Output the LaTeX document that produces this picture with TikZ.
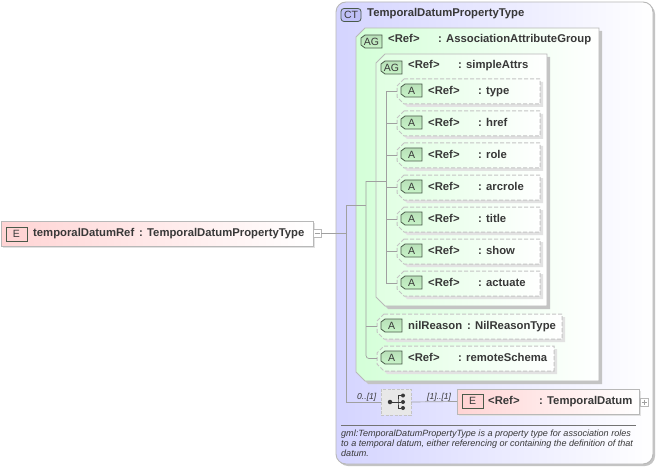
\documentclass[tikz,border=0pt]{standalone}
\usepackage{fontspec}
\setmainfont{Liberation Sans}
\usetikzlibrary{calc}
\definecolor{edge}{HTML}{B8B8B8}
\definecolor{dashedge}{HTML}{C4C4C4}
\definecolor{shadedark}{HTML}{C4C4C4}
\definecolor{shadelight}{HTML}{E2E2E2}
\definecolor{wire}{HTML}{A0A0A0}
\definecolor{ink}{HTML}{383838}
\definecolor{lav}{HTML}{D4D4FF}
\definecolor{mint}{HTML}{D4FFD8}
\definecolor{mintb}{HTML}{E0FFE2}
\definecolor{rose}{HTML}{FFD4D4}
\definecolor{badgetop}{HTML}{B8E0B8}
\definecolor{badgeg}{HTML}{70E878}
\definecolor{badgeb}{HTML}{C8F4C8}
\definecolor{badger}{HTML}{F48C8C}
\definecolor{badgel}{HTML}{C0C0F8}
\definecolor{badgeline}{HTML}{4A5A4A}
\tikzset{
  x=1pt,y=-1pt,
  anchorbox/.style={inner sep=0pt,outer sep=0pt,rectangle},
  lbl/.style={anchor=base west,inner sep=0pt,text=ink,font=\fontsize{11.3}{13}\selectfont\bfseries},
  note/.style={anchor=base west,inner sep=0pt,text=ink,font=\fontsize{9.05}{10}\selectfont\itshape},
  occ/.style={anchor=base west,inner sep=0pt,text=ink,font=\fontsize{8.6}{10}\selectfont\itshape},
  badgetext/.style={inner sep=0pt,text=ink,font=\fontsize{10.5}{12}\selectfont},
  wireline/.style={draw=wire,line width=0.7pt},
  toggle/.style={anchorbox,draw=edge,fill=white,minimum width=8pt,minimum height=8pt,line width=0.8pt},
  dot/.style={circle,fill=ink,inner sep=0pt,minimum size=4pt},
  dashbox/.style={draw=dashedge,dash pattern=on 4pt off 2pt,line width=1pt},
}
\newcommand{\anchorat}[5]{%
  \pgfmathsetmacro{\cxv}{(#2+#4)/2}\pgfmathsetmacro{\cyv}{(#3+#5)/2}%
  \pgfmathsetmacro{\wv}{#4-#2}\pgfmathsetmacro{\hv}{#5-#3}%
  \node[anchorbox,minimum width=\wv pt,minimum height=\hv pt] (#1) at (\cxv,\cyv) {};}
% #1 name, #2..#5 box, #6 left colour, #7 draw options, #8 chamfer, #9 shadow colour
\newcommand{\chambox}[9]{%
  \anchorat{#1}{#2}{#3}{#4}{#5}%
  \fill[#9] ($(#1.north west)+(#8+3,3)$) -- ($(#1.north east)+(3,3)$) -- ($(#1.south east)+(3,3)$) -- ($(#1.south west)+(#8+3,3)$) -- ($(#1.south west)+(3,3-#8)$) -- ($(#1.north west)+(3,3+#8)$) -- cycle;
  \path[left color=#6,right color=white] ($(#1.north west)+(#8,0)$) -- (#1.north east) -- (#1.south east) -- ($(#1.south west)+(#8,0)$) -- ($(#1.south west)+(0,-#8)$) -- ($(#1.north west)+(0,#8)$) -- cycle;
  \draw[#7] ($(#1.north west)+(#8,0)$) -- (#1.north east) -- (#1.south east) -- ($(#1.south west)+(#8,0)$) -- ($(#1.south west)+(0,-#8)$) -- ($(#1.north west)+(0,#8)$) -- cycle;}
\newcommand{\tagbadge}[3]{%
  \pgfmathsetmacro{\xb}{#2+21}\pgfmathsetmacro{\yb}{#3+13}%
  \anchorat{#1}{#2}{#3}{\xb}{\yb}%
  \path[top color=badgetop,middle color=badgeg,bottom color=badgeb] ($(#1.north west)+(4,0)$) -- (#1.north east) -- (#1.south east) -- ($(#1.south west)+(4,0)$) -- ($(#1.south west)+(0,-3)$) -- ($(#1.north west)+(0,3)$) -- cycle;
  \draw[badgeline,line width=0.8pt] ($(#1.north west)+(4,0)$) -- (#1.north east) -- (#1.south east) -- ($(#1.south west)+(4,0)$) -- ($(#1.south west)+(0,-3)$) -- ($(#1.north west)+(0,3)$) -- cycle;}
\begin{document}
\begin{tikzpicture}
\useasboundingbox (0,0) rectangle (656,468);
\fill[white] (0,0) rectangle (656,468);

% complex type box
\fill[shadedark,rounded corners=10pt] (338,4) rectangle (655,466);
\path[rounded corners=10pt,left color=lav,right color=white] (336,2) rectangle (653,464);
\draw[edge,rounded corners=10pt,line width=0.9pt] (336,2) rectangle (653,464);
\node[anchorbox,draw=badgeline,line width=0.8pt,rounded corners=3pt,fill=badgel,minimum width=20pt,minimum height=13pt] (ctbadge) at (351,15) {};
\node[badgetext] (cttext) at (ctbadge.center) {CT};
\node[lbl] (ctname) at (367,17) {TemporalDatumPropertyType};

% attribute groups
\chambox{agouter}{356}{28}{599}{381}{mint}{edge,line width=0.9pt}{9}{shadedark}
\chambox{aginner}{376}{54}{547}{306}{mintb}{edge,line width=0.9pt}{9}{shadedark}

% source element
\fill[shadelight] (3,223) rectangle (315,248);
\anchorat{elem}{1}{221}{313}{246}
\path[left color=rose,right color=white] (elem.north west) rectangle (elem.south east);
\draw[edge,line width=0.9pt] (elem.north west) rectangle (elem.south east);
\anchorat{ebadge}{6}{227}{27}{241}
\path[top color=rose,middle color=badger,bottom color=rose] (ebadge.north west) rectangle (ebadge.south east);
\draw[badgeline,line width=0.8pt] (ebadge.north west) rectangle (ebadge.south east);
\node[badgetext] (etext) at (ebadge.center) {E};
\node[lbl] (ename) at (33,236) {temporalDatumRef};
\node[lbl] (etype) at (139,236) {: TemporalDatumPropertyType};
\node[toggle] (minus) at (317,233.5) {};
\draw[wire,line width=0.8pt] (314.5,233.5) -- (319.5,233.5);

% junctions
\coordinate (j1) at (346,233.5);
\coordinate (j1t) at (346,205);
\coordinate (j1b) at (346,402);
\coordinate (j2) at (366,205);
\coordinate (j2t) at (366,181);
\coordinate (j3) at (386,181);

% attributes in simpleAttrs
\foreach \nm/\yy/\lab in {a/79/type,b/111/href,c/143/role,d/175/arcrole,e/207/title,f/239/show,g/271/actuate}{
  \pgfmathsetmacro{\ybot}{\yy+25}
  \chambox{attr\nm}{397}{\yy}{540}{\ybot}{mintb}{dashbox}{7}{shadelight}
  \pgfmathsetmacro{\yq}{\yy+5}
  \tagbadge{bad\nm}{401}{\yq}
  \node[badgetext] (badt\nm) at (bad\nm.center) {A};
  \pgfmathsetmacro{\yt}{\yy+15.4}
  \node[lbl] (ref\nm) at (428,\yt) {<Ref>};
  \node[lbl] (typ\nm) at (478,\yt) {: \lab};
}
% nilReason and remoteSchema
\chambox{attrn}{377}{314}{562}{339}{mintb}{dashbox}{7}{shadelight}
\tagbadge{badn}{381}{319}
\node[badgetext] (badtn) at (badn.center) {A};
\node[lbl] (refn) at (408,329) {nilReason};
\node[lbl] (typn) at (467,329) {: NilReasonType};
\chambox{attrr}{377}{346}{554}{371}{mintb}{dashbox}{7}{shadelight}
\tagbadge{badr}{381}{351}
\node[badgetext] (badtr) at (badr.center) {A};
\node[lbl] (refr) at (408,361) {<Ref>};
\node[lbl] (typr) at (458,361) {: remoteSchema};

% group badges
\tagbadge{agob}{361}{35}
\node[badgetext] (agot) at (agob.center) {AG};
\node[lbl] (agor) at (388,43) {<Ref>};
\node[lbl] (agoy) at (438,43) {: AssociationAttributeGroup};
\tagbadge{agib}{381}{61}
\node[badgetext] (agit) at (agib.center) {AG};
\node[lbl] (agir) at (408,69) {<Ref>};
\node[lbl] (agiy) at (458,69) {: simpleAttrs};

% connectors
\draw[wireline] (minus.east) -- (j1);
\draw[wireline] (j1t) -- (j1b);
\draw[wireline] (j1t) -- (j2);
\draw[wireline,rounded corners=3pt] (j2t) -- (j2t |- attrr.west) -- (attrr.west);
\draw[wireline] (j2t) -- (j3);
\draw[wireline] (j2t |- attrn.west) -- (attrn.west);
\draw[wireline] (j3 |- attra.west) -- (j3 |- attrg.west);
\foreach \nm in {a,b,c,d,e,f,g}{\draw[wireline] (j3 |- attr\nm.west) -- (attr\nm.west);}

% sequence and target element
\node[anchorbox,fill=black!9,draw=dashedge,dash pattern=on 3pt off 1.5pt,line width=1pt,minimum width=30pt,minimum height=26pt] (seq) at (396,402) {};
\draw[wireline] (j1b) -- (seq.west);
\node[dot,minimum size=4.5pt] (s0) at (390,402) {};
\node[dot] (s1) at (403,395.5) {};
\node[dot] (s2) at (403,402) {};
\node[dot] (s3) at (403,408) {};
\draw[ink,line width=0.8pt] (s0) -- (s2);
\draw[ink,line width=0.8pt] (s1) -| (398,402) |- (s3);

\fill[shadelight] (459,391) rectangle (641,416);
\anchorat{target}{457}{389}{639}{414}
\path[left color=rose,right color=white] (target.north west) rectangle (target.south east);
\draw[edge,line width=0.9pt] (target.north west) rectangle (target.south east);
\draw[wireline] (seq.east) -- (target.west);
\anchorat{tbadge}{462}{394}{483}{408}
\path[top color=rose,middle color=badger,bottom color=rose] (tbadge.north west) rectangle (tbadge.south east);
\draw[badgeline,line width=0.8pt] (tbadge.north west) rectangle (tbadge.south east);
\node[badgetext] (ttext) at (tbadge.center) {E};
\node[lbl] (tref) at (488,404) {<Ref>};
\node[lbl] (ttype) at (539,404) {: TemporalDatum};
\node[toggle] (plus) at (644,402) {};
\draw[wire,line width=0.8pt] (641.5,402) -- (646.5,402) (644,399.5) -- (644,404.5);

\node[occ] (occa) at (357,399) {0..[1]};
\node[occ] (occb) at (427,399) {[1]..[1]};

% documentation
\coordinate (rulel) at (341,425);
\coordinate (ruler) at (636,425);
\draw[black!55,line width=0.6pt] (rulel) -- (ruler);
\node[note] (n1) at (341,436) {gml:TemporalDatumPropertyType is a property type for association roles};
\node[note] (n2) at (341,446) {to a temporal datum, either referencing or containing the definition of that};
\node[note] (n3) at (341,456) {datum.};
\end{tikzpicture}
\end{document}
